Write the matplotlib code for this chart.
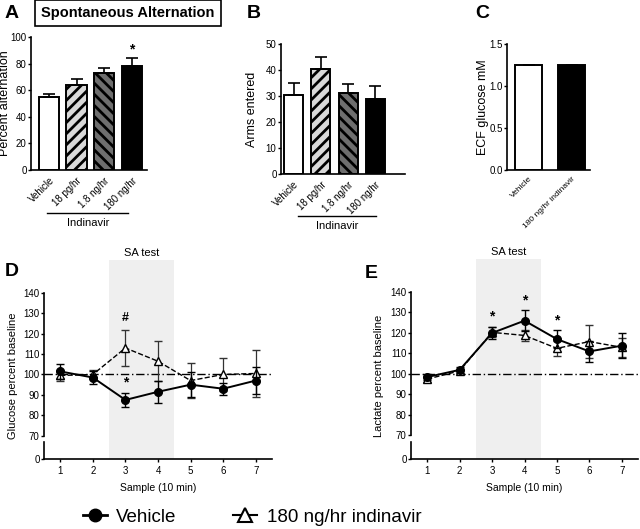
import matplotlib
matplotlib.use("Agg")
import matplotlib.pyplot as plt
import matplotlib.transforms as mtransforms
from matplotlib.lines import Line2D
import numpy as np

plt.rcParams["font.family"] = ["Liberation Sans", "DejaVu Sans"]
plt.rcParams["hatch.linewidth"] = 2.0
plt.rcParams["axes.linewidth"] = 1.2

# ---- data ----
sa_labels = ["Vehicle", "18 pg/hr", "1.8 ng/hr", "180 ng/hr"]
alternation = [55, 64, 73, 78]
alternation_err = [2.5, 4.5, 4.0, 6.0]
arms_entered = [30.5, 40.5, 31, 29]
arms_err = [4.5, 4.5, 3.5, 5.0]

ecf_labels = ["Vehicle", "180 ng/hr indinavir"]
ecf_glucose = [1.25, 1.25]
ecf_err = [0.005, 0.005]

samples = [1, 2, 3, 4, 5, 6, 7]
glu_vehicle = [101.5, 98.5, 87.5, 91.5, 95.0, 93.0, 97.0]
glu_vehicle_err = [3.5, 3.0, 3.3, 5.5, 6.0, 3.0, 6.5]
glu_indinavir = [99.5, 100.0, 113.0, 106.5, 97.0, 100.0, 100.5]
glu_indinavir_err = [2.5, 2.0, 9.0, 9.8, 8.5, 8.0, 11.5]

lac_vehicle = [98.5, 102.0, 120.0, 126.0, 117.0, 111.0, 113.8]
lac_vehicle_err = [1.5, 1.5, 3.0, 5.0, 4.4, 5.0, 6.0]
lac_indinavir = [97.5, 101.5, 120.3, 118.8, 112.5, 115.8, 113.0]
lac_indinavir_err = [1.5, 1.0, 2.5, 2.8, 3.5, 8.0, 4.5]

BAR_FILLS = ["white", "#d9d9d9", "#6e6e6e", "black"]
BAR_HATCH = [None, "///", "\\\\\\", None]

W, H = 640, 529
fig = plt.figure(figsize=(W / 100, H / 100), dpi=100)


def px_axes(left, right, top, bottom):
    return fig.add_axes([left / W, 1 - bottom / H, (right - left) / W, (bottom - top) / H])


def style(ax):
    ax.spines["top"].set_visible(False)
    ax.spines["right"].set_visible(False)
    ax.tick_params(labelsize=7, length=2, width=1, pad=1.2)


def bar_panel(ax, values, errs, labels, width, xlim, ylim, yticks, ylabel, fills, hatches):
    x = np.arange(len(values))
    for i in x:
        ax.bar(i, values[i], width=width, color=fills[i], edgecolor="black",
               linewidth=1.4, hatch=hatches[i], zorder=2)
    ax.errorbar(x, values, yerr=[np.zeros(len(errs)), errs], fmt="none",
                ecolor="black", elinewidth=1.2, capsize=4, capthick=1.2, zorder=3)
    ax.set_xlim(*xlim)
    ax.set_ylim(*ylim)
    ax.set_yticks(yticks)
    ax.set_xticks(x)
    ax.set_xticklabels(labels, rotation=45, ha="right", rotation_mode="anchor")
    ax.set_ylabel(ylabel, fontsize=9)
    style(ax)
    ax.tick_params(axis="x", length=0, pad=4)


def group_line(ax, x0, x1, y, text):
    ax.plot([x0, x1], [y, y], transform=ax.transAxes, color="black", lw=1, clip_on=False)
    ax.text((x0 + x1) / 2, y - 0.04, text, transform=ax.transAxes, ha="center",
            va="top", fontsize=8)


# ---- A ----
axA = px_axes(31, 147, 37, 170)
bar_panel(axA, alternation, alternation_err, sa_labels, 0.73, (-0.65, 3.55), (0, 100),
          [0, 20, 40, 60, 80, 100], "Percent alternation", BAR_FILLS, BAR_HATCH)
axA.yaxis.set_label_coords(-0.17, 0.5)
axA.text(3, alternation[3] + alternation_err[3] + 1, "*", ha="center", va="bottom",
         fontsize=10, fontweight="bold")
group_line(axA, 0.14, 0.84, -0.32, "Indinavir")
fig.text(5 / W, 1 - 14 / H, "A", fontsize=14, fontweight="bold", va="center")
fig.text(128 / W, 1 - 13 / H, "Spontaneous Alternation", fontsize=10.5,
         fontweight="bold", ha="center", va="center",
         bbox=dict(boxstyle="square,pad=0.4", fc="white", ec="black", lw=1.2))

# ---- B ----
axB = px_axes(281, 405, 44, 174)
bar_panel(axB, arms_entered, arms_err, sa_labels, 0.7, (-0.47, 4.1), (0, 50),
          [0, 10, 20, 30, 40, 50], "Arms entered", BAR_FILLS, BAR_HATCH)
axB.yaxis.set_label_coords(-0.185, 0.5)
group_line(axB, 0.137, 0.766, -0.32, "Indinavir")
fig.text(247 / W, 1 - 14 / H, "B", fontsize=14, fontweight="bold", va="center")

# ---- C ----
axC = px_axes(507, 590, 44, 170)
bar_panel(axC, ecf_glucose, ecf_err, ecf_labels, 0.65, (-0.5, 1.43), (0, 1.5),
          [0.0, 0.5, 1.0, 1.5], "ECF glucose mM", ["white", "black"], [None, None])
axC.yaxis.set_major_formatter(matplotlib.ticker.FormatStrFormatter("%.1f"))
axC.yaxis.set_label_coords(-0.22, 0.5)
axC.tick_params(axis="x", labelsize=6)
fig.text(475 / W, 1 - 14 / H, "C", fontsize=14, fontweight="bold", va="center")


# ---- D / E ----
def time_panel(ax, veh, veh_err, ind, ind_err, ylabel, label_x):
    ymin = 58.5
    ax.axvspan(2.5, 4.5, ymin=0, ymax=1.2, color="#efefef", zorder=0, clip_on=False, lw=0)
    ax.text(3.5, 1.24, "SA test", transform=mtransforms.blended_transform_factory(ax.transData, ax.transAxes),
            ha="center", va="center", fontsize=8)
    ax.axhline(100, color="black", lw=1, ls=(0, (6, 2, 1, 2)), zorder=1)
    ax.errorbar(samples, ind, yerr=ind_err, fmt="--", color="black", lw=1,
                marker="^", ms=6, mfc="white", mec="black", mew=1,
                capsize=3, elinewidth=0.9, ecolor="#333333", zorder=3)
    ax.errorbar(samples, veh, yerr=veh_err, fmt="-", color="black", lw=1.4,
                marker="o", ms=5.5, mfc="black", capsize=3, elinewidth=1,
                zorder=4)
    ax.set_xlim(0.5, 7.5)
    ax.set_ylim(ymin, 140)
    ax.set_xticks(samples)
    ax.set_yticks([ymin, 70, 80, 90, 100, 110, 120, 130, 140])
    ax.set_yticklabels(["0", "70", "80", "90", "100", "110", "120", "130", "140"])
    style(ax)
    ax.tick_params(axis="x", pad=3)
    ax.spines["left"].set_bounds(70, 140)
    trans = mtransforms.blended_transform_factory(ax.transAxes, ax.transData)
    ax.plot([0, 0], [ymin, 67], transform=trans, color="black", lw=1.2, clip_on=False)
    ax.set_ylabel(ylabel, fontsize=8)
    ax.yaxis.set_label_coords(label_x, 0.5)
    ax.set_xlabel("Sample (10 min)", fontsize=7.5, labelpad=5)


axD = px_axes(44, 272, 293, 459)
time_panel(axD, glu_vehicle, glu_vehicle_err, glu_indinavir, glu_indinavir_err,
           "Glucose percent baseline", -0.115)
axD.text(3, glu_indinavir[2] + glu_indinavir_err[2] + 3, "#", ha="center",
         va="bottom", fontsize=9, fontweight="bold")
axD.text(3, glu_vehicle[2] + 5, "*", ha="center", va="bottom", fontsize=10,
         fontweight="bold")
fig.text(5 / W, 1 - 272 / H, "D", fontsize=14, fontweight="bold", va="center")

axE = px_axes(411, 638, 292, 459)
time_panel(axE, lac_vehicle, lac_vehicle_err, lac_indinavir, lac_indinavir_err,
           "Lactate percent baseline", -0.12)
for i in [2, 3, 4]:
    axE.text(samples[i], lac_vehicle[i] + lac_vehicle_err[i] + 1.5, "*", ha="center",
             va="bottom", fontsize=10, fontweight="bold")
fig.text(365 / W, 1 - 273 / H, "E", fontsize=14, fontweight="bold", va="center")

# ---- legend ----
handles = [
    Line2D([], [], color="black", lw=2, marker="o", ms=9, mfc="black"),
    Line2D([], [], color="black", lw=1.5, marker="^", ms=10, mfc="white", mew=1.5),
]
fig.legend(handles, ["Vehicle", "180 ng/hr indinavir"], loc="center",
           bbox_to_anchor=(252 / W, 1 - 517 / H), ncol=2, frameon=False,
           fontsize=13.5, handlelength=1.3, columnspacing=3.0, handletextpad=0.5)

fig.savefig("out.png", dpi=100)
